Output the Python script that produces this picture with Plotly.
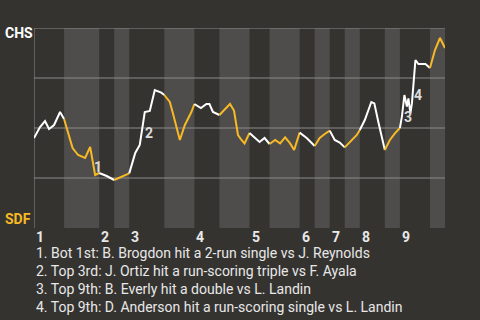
import plotly.graph_objects as go

# Game progress (play index) and CHS win probability (%)
play_x = [0, 1.2, 2.2, 3, 4, 5.2, 6,
          7.2, 7.7, 8.8, 10.2, 11.2, 12.2, 13,
          14.5, 16,
          17.5, 19,
          20.2, 21.1, 22.1, 23.1, 24.1, 25.4, 26,
          27.1, 27.7, 29.1, 30.1, 31.4, 32,
          33.3, 34.4, 35, 35.7, 37,
          39.1, 39.9, 40.7, 41.4, 42, 43,
          44, 45, 46, 47,
          48.1, 49.1, 50.1, 51.1, 51.9, 53,
          54.4, 56,
          57, 58, 59,
          60, 61, 62,
          63.4, 64.4, 65,
          66, 67.3, 67.9, 68.7, 70,
          71, 72, 73,
          73.4, 73.9, 74.4, 74.7, 75.1, 75.4, 76.1, 76.7, 78.1, 79,
          80, 81, 82]
win_prob = [45, 50.5, 53.5, 49.5, 51.5, 58, 54.5,
            45, 40, 36.5, 35, 40.5, 26.5, 27.5,
            26, 24,
            25.7, 27.3,
            37.5, 41.5, 58, 58.5, 69, 67.7, 66.5,
            63, 57.5, 44, 51.5, 58, 62,
            60, 62, 62, 58, 56.5,
            62, 58.7, 46.5, 44, 42.3, 47.5,
            45, 43, 45, 42,
            44, 42.3, 45.3, 42.3, 39, 47.7,
            45, 41,
            45, 47, 48.7,
            44, 42.7, 40.3,
            44, 46.5, 49,
            54, 63, 62.3, 53, 39,
            44, 47.3, 50,
            55.7, 66.5, 60.7, 64.8, 57.3, 62.3, 84, 82, 82, 80,
            89, 95, 90]

# Half-inning boundaries (play index)
half_bounds = [0, 6, 13, 16, 19, 26, 32, 37, 43, 47, 53, 56, 59, 62, 65, 70, 73, 79, 82]
inning_labels = ["1", "2", "3", "4", "5", "6", "7", "8", "9"]

# Key events: label, label position (play index, win prob), description
event_labels = ["1", "2", "3", "4"]
event_x = [12.8, 22.85, 74.65, 76.65]
event_wp = [30.5, 47.5, 55.5, 66.3]
event_text = [
    "1. Bot 1st: B. Brogdon hit a 2-run single vs J. Reynolds",
    "2. Top 3rd: J. Ortiz hit a run-scoring triple vs F. Ayala",
    "3. Top 9th: B. Everly hit a double vs L. Landin",
    "4. Top 9th: D. Anderson hit a run-scoring single vs L. Landin",
]

BG = "#353330"
BAND = "#4e4d4b"
WHITE = "#ffffff"
GOLD = "#f7b924"
GRID = "#8c8b89"
FONT = "Roboto"

fig = go.Figure()

shapes = []
for i in range(len(half_bounds) - 1):
    if i % 2 == 1:
        shapes.append(dict(type="rect", xref="x", yref="y", x0=half_bounds[i], x1=half_bounds[i + 1],
                           y0=-1, y1=100, fillcolor=BAND, line_width=0, layer="below"))
for g in [25, 50, 75, 100]:
    shapes.append(dict(type="line", xref="x", yref="y", x0=0, x1=half_bounds[-1], y0=g, y1=g,
                       line=dict(color=GRID, width=1), layer="below"))
shapes.append(dict(type="line", xref="x", yref="y", x0=0, x1=half_bounds[-1], y0=-1, y1=-1,
                   line=dict(color="#c8c8c8", width=2), layer="below"))
shapes.append(dict(type="line", xref="x", yref="y", x0=0, x1=0, y0=-1, y1=100,
                   line=dict(color=GRID, width=1), layer="below"))

for i in range(len(half_bounds) - 1):
    a, b = half_bounds[i], half_bounds[i + 1]
    xs = [x for x in play_x if a <= x <= b]
    ys = [w for x, w in zip(play_x, win_prob) if a <= x <= b]
    fig.add_trace(go.Scatter(x=xs, y=ys, mode="lines",
                             line=dict(color=WHITE if i % 2 == 0 else GOLD, width=2),
                             hoverinfo="skip", showlegend=False))

annotations = []
for k, lab in enumerate(inning_labels):
    annotations.append(dict(x=half_bounds[2 * k], y=-0.045, xref="x", yref="paper", text="<b>%s</b>" % lab,
                            showarrow=False, xanchor="left", yanchor="middle",
                            font=dict(family=FONT, size=14, color="#e8e8e8")))
for lab, ex, ey in zip(event_labels, event_x, event_wp):
    annotations.append(dict(x=ex, y=ey, xref="x", yref="y", text="<b>%s</b>" % lab, showarrow=False,
                            xanchor="center", yanchor="middle",
                            font=dict(family=FONT, size=14, color="#dcdcdc")))
for j, t in enumerate(event_text):
    annotations.append(dict(x=0.0, y=-0.125 - 0.09 * j, xref="paper", yref="paper", text=t, showarrow=False,
                            xanchor="left", yanchor="middle",
                            font=dict(family=FONT, size=14, color="#e8e8e8")))
annotations.append(dict(x=-0.0754, y=0.975, xref="paper", yref="paper", text="<b>CHS</b>", showarrow=False,
                        xanchor="left", yanchor="middle", font=dict(family=FONT, size=14, color=WHITE)))
annotations.append(dict(x=-0.0754, y=0.045, xref="paper", yref="paper", text="<b>SDF</b>", showarrow=False,
                        xanchor="left", yanchor="middle", font=dict(family=FONT, size=14, color=GOLD)))

fig.update_layout(
    width=480, height=320,
    margin=dict(l=34, r=35, t=28, b=92),
    paper_bgcolor=BG, plot_bgcolor=BG,
    xaxis=dict(range=[0, half_bounds[-1]], visible=False, fixedrange=True),
    yaxis=dict(range=[0, 100], visible=False, fixedrange=True),
    shapes=shapes, annotations=annotations,
    showlegend=False,
)

fig.write_html("out.html", config={"displayModeBar": False})
